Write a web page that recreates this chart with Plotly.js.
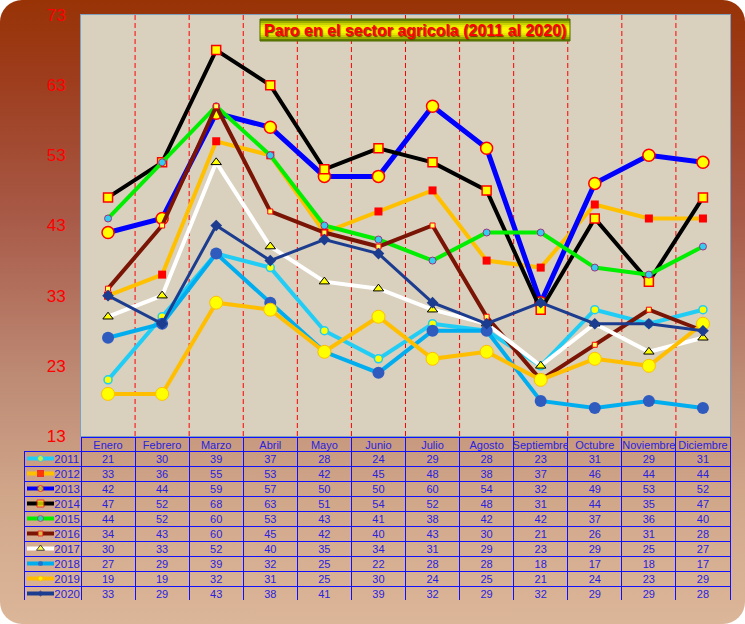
<!DOCTYPE html>
<html>
<head>
<meta charset="utf-8">
<script src="https://cdn.plot.ly/plotly-3.0.1.min.js"></script>
<style>
html, body { margin: 0; padding: 0; background: #ffffff; }
#frame {
  width: 745px; height: 624px; border-radius: 22px; overflow: hidden;
  background: linear-gradient(180deg, #983306 0%, #9d3c1c 12%, #a85a48 35%, #bd8a74 60%, #d1a78a 80%, #dcb699 100%);
}
#chart { width: 745px; height: 624px; }
</style>
</head>
<body>
<div id="frame"><div id="chart"></div></div>
<script>
// ---- data ----
const months = ['Enero', 'Febrero', 'Marzo', 'Abril', 'Mayo', 'Junio', 'Julio', 'Agosto', 'Septiembre', 'Octubre', 'Noviembre', 'Diciembre'];
const years = ['2011', '2012', '2013', '2014', '2015', '2016', '2017', '2018', '2019', '2020'];
const s2011 = [21, 30, 39, 37, 28, 24, 29, 28, 23, 31, 29, 31];
const s2012 = [33, 36, 55, 53, 42, 45, 48, 38, 37, 46, 44, 44];
const s2013 = [42, 44, 59, 57, 50, 50, 60, 54, 32, 49, 53, 52];
const s2014 = [47, 52, 68, 63, 51, 54, 52, 48, 31, 44, 35, 47];
const s2015 = [44, 52, 60, 53, 43, 41, 38, 42, 42, 37, 36, 40];
const s2016 = [34, 43, 60, 45, 42, 40, 43, 30, 21, 26, 31, 28];
const s2017 = [30, 33, 52, 40, 35, 34, 31, 29, 23, 29, 25, 27];
const s2018 = [27, 29, 39, 32, 25, 22, 28, 28, 18, 17, 18, 17];
const s2019 = [19, 19, 32, 31, 25, 30, 24, 25, 21, 24, 23, 29];
const s2020 = [33, 29, 43, 38, 41, 39, 32, 29, 32, 29, 29, 28];
const yTicks = [13, 23, 33, 43, 53, 63, 73];
const titleText = 'Paro en el sector agricola (2011 al 2020)';

const seriesData = [s2011, s2012, s2013, s2014, s2015, s2016, s2017, s2018, s2019, s2020];

// ---- styles ----
const styles = [
  { line: '#22cdf5', lw: 4, sym: 'circle',      ms: 8,  mc: '#ffff00', mlc: '#22cdf5', mlw: 1.5, gs: 6 },
  { line: '#ffc000', lw: 4, sym: 'square',      ms: 8,  mc: '#ff0000', mlc: '#ff0000', mlw: 0,   gs: 7 },
  { line: '#0000ff', lw: 5, sym: 'circle',      ms: 12, mc: '#ffff00', mlc: '#ff0000', mlw: 1.5, gs: 6 },
  { line: '#000000', lw: 4, sym: 'square',      ms: 9,  mc: '#ffff00', mlc: '#ff0000', mlw: 1.5, gs: 7 },
  { line: '#00ee00', lw: 4, sym: 'circle',      ms: 7,  mc: '#33ccee', mlc: '#a03080', mlw: 1,   gs: 6 },
  { line: '#7a1405', lw: 4, sym: 'square',      ms: 5,  mc: '#ffff66', mlc: '#ff0000', mlw: 1,   gs: 5 },
  { line: '#ffffff', lw: 4, sym: 'triangle-up', ms: 9,  mc: '#ffff00', mlc: '#000000', mlw: 1,   gs: 7 },
  { line: '#00aeef', lw: 4, sym: 'circle',      ms: 12, mc: '#2f5bbf', mlc: '#2f5bbf', mlw: 0,   gs: 5 },
  { line: '#ffbf00', lw: 4, sym: 'circle',      ms: 13, mc: '#ffff00', mlc: '#ffbf00', mlw: 1,   gs: 5 },
  { line: '#1c3d8f', lw: 3, sym: 'diamond',     ms: 9,  mc: '#1c3d8f', mlc: '#1c3d8f', mlw: 0,   gs: 5 }
];

// ---- geometry (pixels) ----
const W = 745, H = 624;
const mL = 24, mR = 15, mT = 15, mB = 23;
const pw = W - mL - mR, ph = H - mT - mB;
const px = x => (x - mL) / pw;
const py = y => 1 - (y - mT) / ph;

const traces = [];
seriesData.forEach((vals, i) => {
  const st = styles[i];
  traces.push({
    type: 'scatter', mode: 'lines+markers', name: years[i],
    x: months, y: vals, xaxis: 'x', yaxis: 'y',
    line: { color: st.line, width: st.lw },
    marker: { symbol: st.sym, size: st.ms, color: st.mc, line: { color: st.mlc, width: st.mlw } },
    showlegend: false
  });
});

// legend glyphs drawn in the first table column
seriesData.forEach((vals, i) => {
  const st = styles[i];
  traces.push({
    type: 'scatter', mode: 'lines+markers',
    x: [0, 1, 2], y: [years[i], years[i], years[i]], xaxis: 'x2', yaxis: 'y2',
    line: { color: st.line, width: 4 },
    marker: { symbol: st.sym, size: [0, st.gs, 0], color: st.mc, line: { color: st.mlc, width: [0, Math.min(st.mlw, 1), 0] } },
    showlegend: false
  });
});

// table: one trace draws the grid, a second one (slightly raised) draws the text
const nb = '\u00a0'.repeat(7);
const cellCols = [years.map(y => nb + y)];
months.forEach((m, j) => cellCols.push(seriesData.map(s => s[j])));
const emptyCols = cellCols.map(col => col.map(() => ''));
const colW = [57].concat(months.map(() => 54.08));
const blue = '#1010ff';
const txt = '#2a22dd';
const clear = 'rgba(0,0,0,0)';
const tfont = 'Liberation Sans, Arial, sans-serif';

traces.push({
  type: 'table',
  domain: { x: [0, 1], y: [0, py(437)] },
  columnwidth: colW,
  header: {
    values: [''].concat(months.map(() => '')), height: 14,
    fill: { color: clear },
    line: { color: [clear].concat(months.map(() => blue)), width: 1 }
  },
  cells: {
    values: emptyCols, height: 15,
    fill: { color: clear },
    line: { color: blue, width: 1 }
  }
});
const lift = 4.5;
traces.push({
  type: 'table',
  domain: { x: [0, 1], y: [0, py(437 - lift)] },
  columnwidth: colW,
  header: {
    values: [''].concat(months), height: 14, align: 'center',
    font: { family: tfont, size: 11, color: txt },
    fill: { color: clear }, line: { color: clear, width: 0 }
  },
  cells: {
    values: cellCols, height: 15,
    align: ['left'].concat(months.map(() => 'center')),
    font: { family: tfont, size: [11.5].concat(months.map(() => 11)), color: txt },
    fill: { color: clear }, line: { color: clear, width: 0 }
  }
});

// shapes: plot background, month separators, title gradient box
const shapes = [];
shapes.push({
  type: 'rect', xref: 'x domain', yref: 'y domain', x0: 0, x1: 1, y0: 0, y1: 1,
  fillcolor: '#d9d0be', line: { width: 0 }, layer: 'below'
});
months.slice(1).forEach((m, j) => {
  shapes.push({
    type: 'line', xref: 'x', yref: 'y domain', x0: j + 0.5, x1: j + 0.5, y0: 0, y1: 1,
    line: { color: '#ff0000', width: 1, dash: '5px,3px' }, layer: 'below'
  });
});
const bx0 = 260, bx1 = 570, by0 = 19, by1 = 41, nBands = 11;
const dark = [60, 95, 0], yel = [250, 250, 0];
for (let k = 0; k < nBands; k++) {
  const t = (k + 0.5) / nBands;
  const f = 1 - Math.pow(Math.abs(2 * t - 1), 2.2);
  const c = dark.map((d, q) => Math.round(d + (yel[q] - d) * f));
  const ya = by0 + (by1 - by0) * k / nBands, yb = by0 + (by1 - by0) * (k + 1) / nBands;
  shapes.push({
    type: 'rect', xref: 'paper', yref: 'paper',
    x0: px(bx0), x1: px(bx1), y0: py(yb), y1: py(ya),
    fillcolor: `rgb(${c[0]},${c[1]},${c[2]})`, line: { width: 0 }, layer: 'above'
  });
}
shapes.push({
  type: 'rect', xref: 'paper', yref: 'paper',
  x0: px(bx0), x1: px(bx1), y0: py(by1), y1: py(by0),
  fillcolor: clear, line: { color: '#4f6a00', width: 1 }, layer: 'above'
});

const layout = {
  width: W, height: H,
  margin: { l: mL, r: mR, t: mT, b: mB, pad: 0 },
  paper_bgcolor: clear,
  plot_bgcolor: clear,
  showlegend: false,
  font: { family: tfont },
  xaxis: {
    type: 'category', domain: [px(81), 1], range: [-0.5, 11.5],
    showgrid: false, showticklabels: false, ticks: '', zeroline: false,
    showline: true, linecolor: '#7f9fbf', linewidth: 1, mirror: true, fixedrange: true
  },
  yaxis: {
    domain: [py(436), 1], range: [13, 73], tickvals: yTicks, showgrid: false, zeroline: false,
    ticks: '', tickfont: { family: tfont, size: 17, color: '#ff0000' },
    ticklabelstandoff: 11,
    showline: true, linecolor: '#7f9fbf', linewidth: 1, mirror: true, fixedrange: true
  },
  xaxis2: { domain: [px(27), px(54)], range: [0, 2], visible: false, fixedrange: true },
  yaxis2: { domain: [0, py(451)], type: 'category', categoryorder: 'array', categoryarray: years, range: [9.5, -0.5], visible: false, fixedrange: true },
  shapes: shapes,
  annotations: [{
    xref: 'paper', yref: 'paper', x: px((bx0 + bx1) / 2), y: py((by0 + by1) / 2),
    xanchor: 'center', yanchor: 'middle', showarrow: false,
    text: titleText,
    font: { family: tfont, size: 16, color: '#ff0000', weight: 700, shadow: '1px 1px 1px #6a3a00' }
  }]
};

Plotly.newPlot('chart', traces, layout, { displayModeBar: false, staticPlot: true });
</script>
</body>
</html>
